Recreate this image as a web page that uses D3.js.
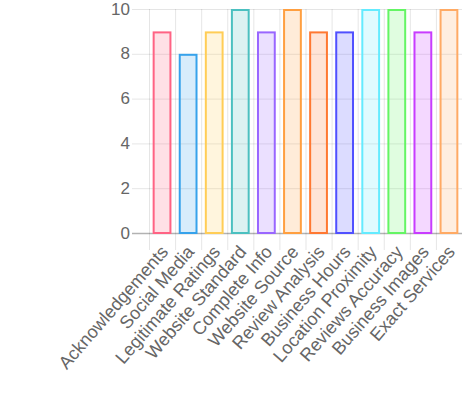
<!DOCTYPE html>
<html>
<head>
<meta charset="utf-8">
<script src="https://cdn.jsdelivr.net/npm/d3@7"></script>
<style>
  body { margin: 0; background: #fff; }
  svg text { font-family: "Liberation Sans", Arial, Helvetica, sans-serif; fill: #666; }
</style>
</head>
<body>
<svg id="chart" width="474" height="394"></svg>
<script>
// Categories and scores
const categories = ["Acknowledgements", "Social Media", "Legitimate Ratings", "Website Standard",
    "Complete Info", "Website Source", "Review Analysis", "Business Hours",
    "Location Proximity", "Reviews Accuracy", "Business Images", "Exact Services"];
const scores = [9, 8, 9, 10, 9, 10, 9, 9, 10, 10, 9, 10];
const yTicks = [0, 2, 4, 6, 8, 10];

// border colours, fill is same colour with low alpha
const borderColors = ["rgb(255,99,132)", "rgb(54,162,235)", "rgb(255,205,86)", "rgb(75,192,192)",
    "rgb(153,102,255)", "rgb(255,159,64)", "rgb(255,120,50)", "rgb(80,80,255)",
    "rgb(100,235,255)", "rgb(100,245,100)", "rgb(200,60,255)", "rgb(255,170,100)"];
const fillAlpha = 0.2;

const margin = { left: 149, right: 12, top: 9, bottom: 161 };
const width = 474, height = 394;

const svg = d3.select("#chart");

const x = d3.scaleBand().domain(categories).range([margin.left, width - margin.right]);
const y = d3.scaleLinear().domain([0, 10]).range([height - margin.bottom, margin.top]);

// horizontal grid
svg.append("g").selectAll("line").data(yTicks).join("line")
    .attr("x1", 132).attr("x2", width - margin.right)
    .attr("y1", d => y(d) + 0.5).attr("y2", d => y(d) + 0.5)
    .attr("stroke", d => d === 0 ? "rgba(0,0,0,0.3)" : "rgba(0,0,0,0.1)")
    .attr("stroke-width", d => d === 0 ? 1.5 : 1);

// vertical grid at category edges
svg.append("g").selectAll("line").data(categories).join("line")
    .attr("x1", d => x(d) + 0.5).attr("x2", d => x(d) + 0.5)
    .attr("y1", margin.top).attr("y2", y(0) + 17)
    .attr("stroke", "rgba(0,0,0,0.1)");

// y tick labels
svg.append("g").selectAll("text").data(yTicks).join("text")
    .attr("x", 130).attr("y", d => y(d))
    .attr("text-anchor", "end").attr("dominant-baseline", "central")
    .attr("font-size", 17)
    .text(d => d);

// bars
const bw = x.bandwidth() * 0.72;
svg.append("g").selectAll("rect").data(categories).join("rect")
    .attr("x", d => x(d) + (x.bandwidth() - bw) / 2 + 1)
    .attr("y", (d, i) => y(scores[i]) + 1)
    .attr("width", bw - 2)
    .attr("height", (d, i) => y(0) - y(scores[i]) - 1)
    .attr("fill", (d, i) => borderColors[i].replace("rgb", "rgba").replace(")", "," + fillAlpha + ")"))
    .attr("stroke", (d, i) => borderColors[i])
    .attr("stroke-width", 2);

// x labels, rotated
svg.append("g").selectAll("text").data(categories).join("text")
    .attr("transform", d => `translate(${x(d) + x.bandwidth() / 2 + 2.5},${y(0) + 15.5}) rotate(-49)`)
    .attr("text-anchor", "end").attr("dominant-baseline", "central")
    .attr("font-size", 18)
    .text(d => d);
</script>
</body>
</html>
